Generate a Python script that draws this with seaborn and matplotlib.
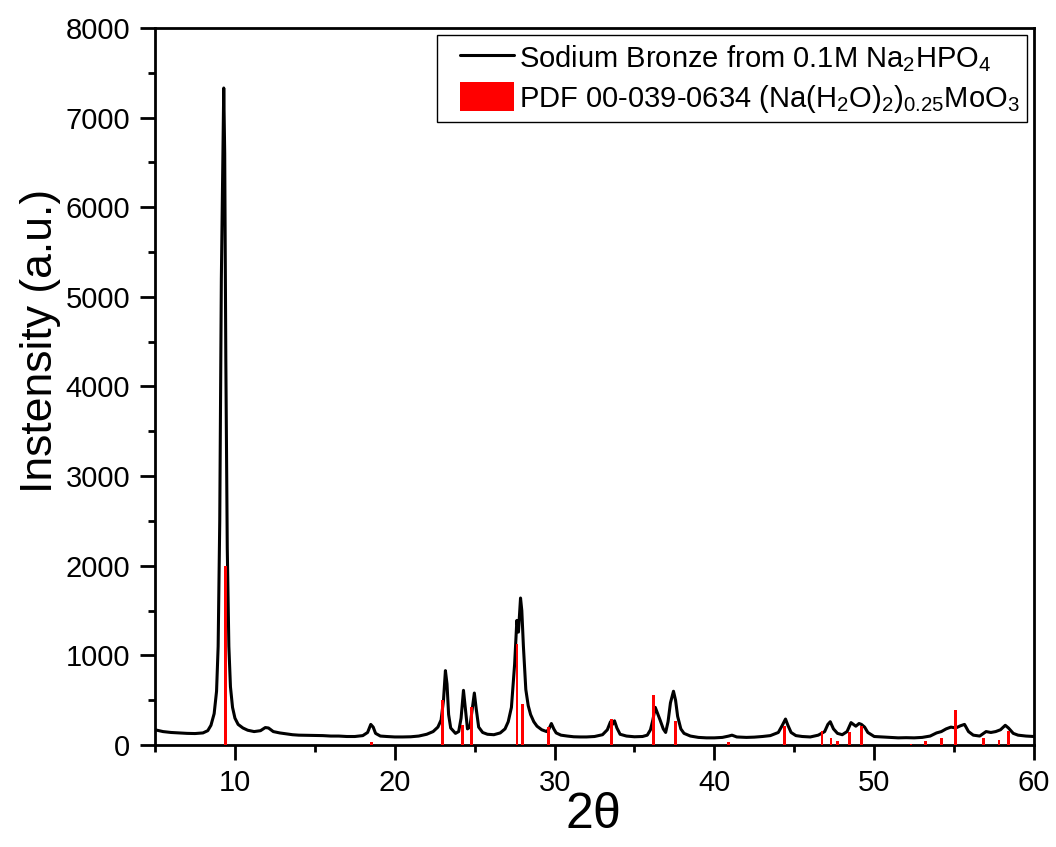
import matplotlib
matplotlib.use("Agg")
import matplotlib.pyplot as plt
from matplotlib.ticker import MultipleLocator
from matplotlib.legend_handler import HandlerLine2D, HandlerPatch, update_from_first_child
from matplotlib.container import BarContainer
import seaborn as sns
import pandas as pd

# ---- data ----
two_theta = [5.0, 5.5, 6.0, 6.5, 7.0, 7.5, 8.0, 8.3, 8.5, 8.7, 8.85, 8.95, 9.05, 9.15, 9.3,
             9.36, 9.43, 9.52, 9.62, 9.72, 9.85, 10.0, 10.2, 10.5, 10.8, 11.2, 11.6, 11.9,
             12.1, 12.4, 12.8, 13.2, 13.6, 14.0, 14.5, 15.0, 15.5, 16.0, 16.5, 17.0, 17.5,
             18.0, 18.3, 18.5, 18.65, 18.8, 19.1, 19.5, 20.0, 20.5, 21.0, 21.5, 22.0, 22.4,
             22.7, 22.9, 23.05, 23.17, 23.27, 23.37, 23.5, 23.8, 24.0, 24.15, 24.3, 24.42,
             24.55, 24.7, 24.85, 24.98, 25.1, 25.25, 25.5, 25.8, 26.2, 26.6, 26.9, 27.1,
             27.3, 27.5, 27.64, 27.74, 27.87, 27.95, 28.05, 28.2, 28.35, 28.5, 28.7, 28.9,
             29.2, 29.5, 29.65, 29.8, 29.95, 30.1, 30.4, 30.8, 31.2, 31.6, 32.0, 32.5, 33.0,
             33.3, 33.5, 33.62, 33.75, 33.9, 34.1, 34.5, 35.0, 35.5, 35.8, 36.0, 36.15, 36.3,
             36.45, 36.6, 36.8, 36.95, 37.1, 37.25, 37.44, 37.57, 37.7, 37.9, 38.1, 38.5,
             39.0, 39.5, 40.0, 40.5, 40.9, 41.1, 41.4, 42.0, 42.5, 43.0, 43.5, 44.0, 44.25,
             44.45, 44.6, 44.8, 45.1, 45.5, 46.0, 46.5, 46.9, 47.1, 47.25, 47.45, 47.7, 48.0,
             48.3, 48.55, 48.7, 48.85, 49.05, 49.2, 49.4, 49.6, 50.0, 50.5, 51.0, 51.5, 52.0,
             52.5, 53.0, 53.5, 53.9, 54.2, 54.5, 54.8, 55.1, 55.4, 55.65, 55.9, 56.2, 56.6,
             57.0, 57.3, 57.6, 57.9, 58.2, 58.4, 58.7, 59.0, 59.5, 60.0]
intensity = [170, 150, 140, 135, 130, 128, 135, 160, 220, 350, 600, 1100, 2500, 5200, 7330,
             6600, 4300, 2200, 1100, 650, 420, 300, 230, 190, 165, 150, 160, 195,
             190, 150, 135, 125, 115, 110, 108, 105, 105, 100, 100, 95, 95,
             105, 140, 230, 200, 130, 100, 95, 90, 90, 92, 100, 120, 150,
             200, 280, 500, 830, 680, 340, 190, 130, 150, 300, 610, 400,
             180, 200, 400, 580, 400, 200, 140, 120, 115, 135, 180, 260,
             420, 900, 1390, 1260, 1640, 1500, 1100, 620, 440, 340, 260, 210,
             170, 150, 180, 240, 180, 135, 110, 100, 92, 90, 90, 95, 115,
             170, 260, 230, 270, 190, 120, 100, 92, 95, 110, 170, 280, 420,
             350, 280, 180, 140, 260, 470, 600, 500, 320, 180, 130, 100,
             85, 80, 80, 85, 100, 110, 90, 85, 88, 95, 105, 140, 220,
             290, 220, 140, 105, 95, 90, 110, 150, 230, 260, 180, 130, 115,
             150, 250, 230, 210, 240, 230, 200, 140, 95, 90, 85, 80, 82,
             80, 85, 100, 135, 150, 180, 200, 190, 215, 230, 150, 110, 100,
             150, 140, 150, 170, 220, 190, 130, 110, 100, 95]

ref_pos = [9.42, 18.56, 23.0, 24.25, 24.8, 27.65, 27.98, 29.6, 33.54, 36.19, 37.56, 40.9,
           44.37, 46.73, 47.3, 47.7, 48.44, 49.2, 52.3, 53.2, 54.2, 55.1, 56.85, 57.8, 58.4]
ref_int = [2000, 30, 500, 220, 420, 1130, 460, 200, 290, 560, 270, 30,
           210, 160, 75, 50, 150, 210, 15, 45, 75, 390, 75, 60, 160]

x_ticks = [10, 20, 30, 40, 50, 60]
y_ticks = [0, 1000, 2000, 3000, 4000, 5000, 6000, 7000, 8000]

label_line = r"Sodium Bronze from 0.1M Na$_2$HPO$_4$"
label_ref = r"PDF 00-039-0634 (Na(H$_2$O)$_2$)$_{0.25}$MoO$_3$"

# ---- style ----
sns.set_style("white")
plt.rcParams["font.family"] = ["Liberation Sans", "DejaVu Sans"]
plt.rcParams["mathtext.default"] = "regular"
plt.rcParams["text.color"] = "black"
plt.rcParams["axes.labelcolor"] = "black"

fig = plt.figure(figsize=(10.56, 8.47), dpi=100)
ax = fig.add_axes([0.1468, 0.1204, 0.8324, 0.8466])

df = pd.DataFrame({"two_theta": two_theta, "intensity": intensity})
sns.lineplot(data=df, x="two_theta", y="intensity", ax=ax, color="black",
             linewidth=2.2, label=label_line, sort=False, zorder=2)
ax.bar(ref_pos, ref_int, width=0.17, color="#ff0000", edgecolor="none",
       label=label_ref, zorder=3)

ax.set_xlim(5, 60)
ax.set_ylim(0, 8000)
ax.set_xticks(x_ticks)
ax.set_yticks(y_ticks)
ax.xaxis.set_minor_locator(MultipleLocator(5))
ax.yaxis.set_minor_locator(MultipleLocator(500))
ax.tick_params(axis="both", which="both", bottom=True, left=True, top=False, right=False)
ax.tick_params(axis="both", which="major", direction="out", length=11, width=2,
               labelsize=21, color="black", labelcolor="black")
ax.tick_params(axis="both", which="minor", direction="out", length=5, width=2, color="black")
ax.tick_params(axis="y", pad=7)
ax.tick_params(axis="x", pad=6)
for s in ax.spines.values():
    s.set_visible(True)
    s.set_linewidth(2.0)
    s.set_color("black")

ax.set_xlabel(r"2$\theta$", fontsize=36)
ax.set_ylabel("Instensity (a.u.)", fontsize=32)
ax.xaxis.set_label_coords(0.498, -0.066)
ax.yaxis.set_label_coords(-0.107, 0.563)

leg = ax.legend(loc="upper right", fontsize=21, frameon=True, fancybox=False,
                framealpha=1, edgecolor="black", handlelength=2.4, handleheight=1.15,
                labelspacing=0.3, borderpad=0.25, handletextpad=0.15,
                borderaxespad=0.25,
                handler_map={matplotlib.lines.Line2D: HandlerLine2D(xpad=0.55),
                             BarContainer: HandlerPatch(xpad=0.55,
                                                        update_func=update_from_first_child)})
leg.get_frame().set_linewidth(1.0)

fig.savefig("out.png", dpi=100, facecolor="white")
